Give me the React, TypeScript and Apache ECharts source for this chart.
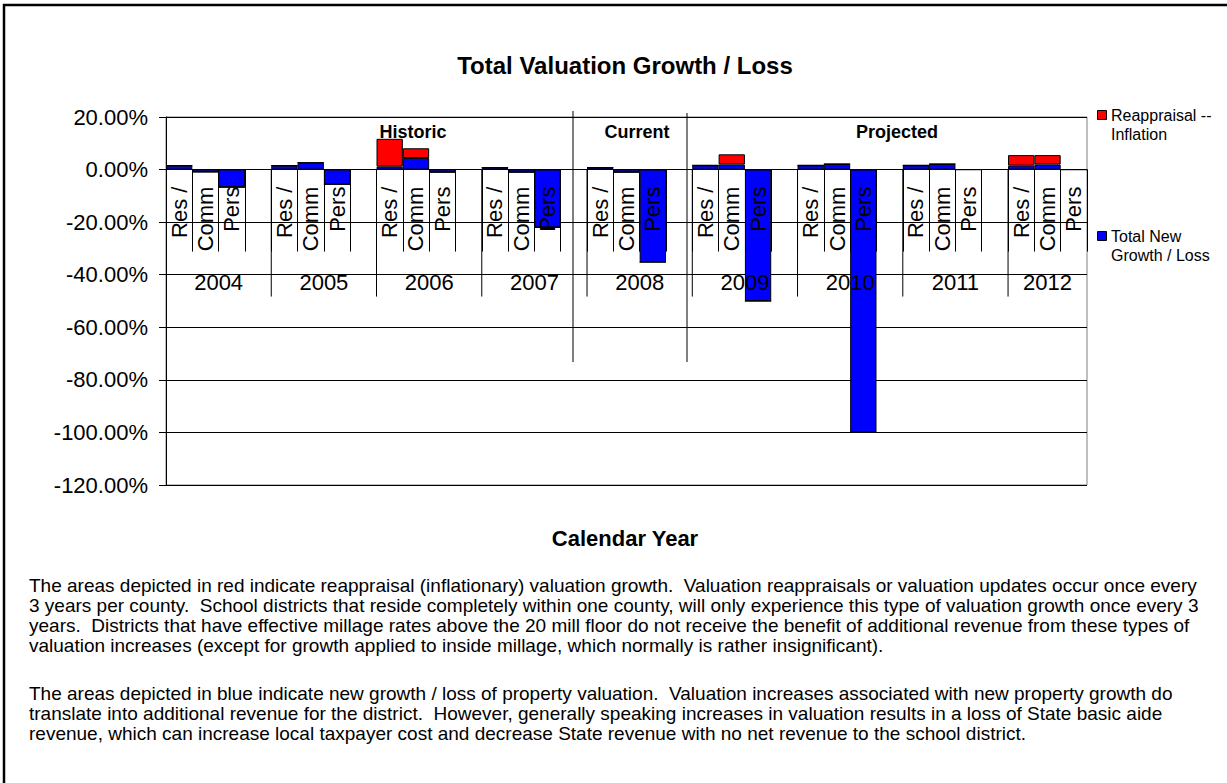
import React, { useEffect, useRef } from 'react';
import * as echarts from 'echarts';

const years = ['2004', '2005', '2006', '2007', '2008', '2009', '2010', '2011', '2012'];
const propertyTypes = ['Res /', 'Comm', 'Pers'];
// values per year, in the order Res / Comm / Pers (percent)
const newGrowthLoss = [
  [1.5, -0.9, -6.7],
  [1.5, 2.6, -5.6],
  [1.1, 4.4, -1.0],
  [0.75, -1.0, -22],
  [0.75, -1.0, -35.2],
  [1.6, 1.9, -50],
  [1.6, 2.1, -100],
  [1.6, 2.1, 0],
  [1.5, 1.9, 0],
];
const reappraisalInflation = [
  [0, 0, 0],
  [0, 0, 0],
  [10.6, 3.7, 0],
  [0, 0, 0],
  [0, 0, 0],
  [0, 3.9, 0],
  [0, 0, 0],
  [0, 0, 0],
  [4.0, 3.6, 0],
];
const yMin = -120;
const yMax = 20;
const yStep = 20;
const eraLabels = ['Historic', 'Current', 'Projected'];
const seriesNames = ['Reappraisal -- Inflation', 'Total New Growth / Loss'];
const legendLines = [
  ['Reappraisal --', 'Inflation'],
  ['Total New', 'Growth / Loss'],
];
const seriesColors = ['#FF0000', '#0000FF'];
const paragraph1 = [
  'The areas depicted in red indicate reappraisal (inflationary) valuation growth.  Valuation reappraisals or valuation updates occur once every',
  '3 years per county.  School districts that reside completely within one county, will only experience this type of valuation growth once every 3',
  'years.  Districts that have effective millage rates above the 20 mill floor do not receive the benefit of additional revenue from these types of',
  'valuation increases (except for growth applied to inside millage, which normally is rather insignificant).',
];
const paragraph2 = [
  'The areas depicted in blue indicate new growth / loss of property valuation.  Valuation increases associated with new property growth do',
  'translate into additional revenue for the district.  However, generally speaking increases in valuation results in a loss of State basic aide',
  'revenue, which can increase local taxpayer cost and decrease State revenue with no net revenue to the school district.',
];

const FONT = '"Liberation Sans", Arial, Helvetica, sans-serif';

// build the category slots (Res / Comm / Pers + a blank spacer between years)
const categories: string[] = [];
const blueData: (number | null)[] = [];
const redData: (number | null)[] = [];
const yearGroups: number[][] = [];
years.forEach((y, i) => {
  const start = categories.length;
  propertyTypes.forEach((t, j) => {
    categories.push(`${y}|${t}`);
    blueData.push(newGrowthLoss[i][j]);
    redData.push(reappraisalInflation[i][j]);
  });
  if (i < years.length - 1) {
    categories.push(`${y}|`);
    blueData.push(null);
    redData.push(null);
  }
  yearGroups.push([start, categories.length - 1]);
});
const slotItems = categories.map((_, i) => [i, 0]);

export default function App() {
  const ref = useRef<HTMLDivElement>(null);
  useEffect(() => {
    document.body.style.margin = '0';
    const chart = echarts.init(ref.current!, null, { renderer: 'svg' });
    const graphics: any[] = [
      { type: 'rect', shape: { x: 4, y: 5, width: 1240, height: 800 }, style: { fill: 'none', stroke: '#000', lineWidth: 2.5 }, silent: true },
      { type: 'line', shape: { x1: 573, y1: 111, x2: 573, y2: 362 }, style: { stroke: '#000', lineWidth: 1 }, z: 20 },
      { type: 'line', shape: { x1: 687, y1: 113, x2: 687, y2: 362 }, style: { stroke: '#000', lineWidth: 1 }, z: 20 },
      { type: 'text', x: 413, y: 132, style: { text: eraLabels[0], font: `bold 18px ${FONT}`, fill: '#000', align: 'center', verticalAlign: 'middle' }, z: 20 },
      { type: 'text', x: 637, y: 132, style: { text: eraLabels[1], font: `bold 18px ${FONT}`, fill: '#000', align: 'center', verticalAlign: 'middle' }, z: 20 },
      { type: 'text', x: 897, y: 132, style: { text: eraLabels[2], font: `bold 18px ${FONT}`, fill: '#000', align: 'center', verticalAlign: 'middle' }, z: 20 },
      { type: 'text', x: 625, y: 538, style: { text: 'Calendar Year', font: `bold 22px ${FONT}`, fill: '#000', align: 'center', verticalAlign: 'middle' } },
    ];
    // legend (Excel style: square aligned with the first text line)
    const legendTops = [110, 231];
    legendLines.forEach((lines, k) => {
      const top = legendTops[k];
      graphics.push({ type: 'rect', shape: { x: 1097.5, y: top + 0.5, width: 9, height: 9 }, style: { fill: seriesColors[k], stroke: '#000', lineWidth: 1 } });
      lines.forEach((ln, m) => {
        graphics.push({ type: 'text', x: 1111, y: top + 5 + m * 19, style: { text: ln, font: `16px ${FONT}`, fill: '#000', align: 'left', verticalAlign: 'middle' } });
      });
    });
    paragraph1.forEach((line, i) => {
      graphics.push({ type: 'text', x: 29, y: 585 + i * 20.3, style: { text: line, font: `19px ${FONT}`, fill: '#000', align: 'left', verticalAlign: 'middle' } });
    });
    paragraph2.forEach((line, i) => {
      graphics.push({ type: 'text', x: 29, y: 693 + i * 20.3, style: { text: line, font: `19px ${FONT}`, fill: '#000', align: 'left', verticalAlign: 'middle' } });
    });

    chart.setOption({
      animation: false,
      textStyle: { fontFamily: FONT, color: '#000' },
      title: {
        text: 'Total Valuation Growth / Loss',
        left: 620,
        textAlign: 'center',
        top: 48,
        textStyle: { fontSize: 24, fontWeight: 'bold', color: '#000', fontFamily: FONT },
      },
      grid: {
        left: 166,
        top: 117,
        width: 921,
        height: 368,
        show: true,
        borderColor: '#808080',
        borderWidth: 1,
        backgroundColor: 'transparent',
        containLabel: false,
      },
      xAxis: {
        type: 'category',
        data: categories,
        z: 5,
        axisLine: { show: true, onZero: true, lineStyle: { color: '#000', width: 1 } },
        axisTick: { show: true, interval: 0, length: 82, lineStyle: { color: '#000', width: 1 } },
        axisLabel: { show: false },
        splitLine: { show: false },
      },
      yAxis: {
        type: 'value',
        min: yMin,
        max: yMax,
        interval: yStep,
        axisLine: { show: true, lineStyle: { color: '#000', width: 1 } },
        axisTick: { show: true, length: 7, lineStyle: { color: '#000' } },
        axisLabel: { fontSize: 22, color: '#000', margin: 18, fontFamily: FONT, formatter: (v: number) => `${v.toFixed(2)}%` },
        splitLine: { show: true, lineStyle: { color: '#000', width: 1 } },
      },
      series: [
        {
          name: seriesNames[1],
          type: 'bar',
          stack: 'total',
          data: blueData,
          barCategoryGap: '0%',
          itemStyle: { color: seriesColors[1], borderColor: '#000', borderWidth: 1 },
        },
        {
          name: seriesNames[0],
          type: 'bar',
          stack: 'total',
          data: redData,
          barCategoryGap: '0%',
          itemStyle: { color: seriesColors[0], borderColor: '#000', borderWidth: 1 },
        },
        {
          name: 'property types',
          type: 'custom',
          data: slotItems,
          encode: { x: 0, y: 1 },
          z: 10,
          silent: true,
          renderItem: (params: any, api: any) => {
            const idx = api.value(0) as number;
            const label = categories[params.dataIndex].split('|')[1];
            const p = api.coord([idx, 0]);
            if (!label) return { type: 'group', children: [] };
            return {
              type: 'text',
              x: p[0],
              y: p[1] + 17,
              rotation: Math.PI / 2,
              style: { text: label, font: `22px ${FONT}`, fill: '#000', align: 'right', verticalAlign: 'middle' },
            };
          },
        },
        {
          name: 'years',
          type: 'custom',
          data: yearGroups,
          encode: { x: 0, y: 1 },
          z: 10,
          silent: true,
          renderItem: (params: any, api: any) => {
            const s = api.value(0) as number;
            const e = api.value(1) as number;
            const w = api.size([1, 0])[0];
            const a = api.coord([s, 0]);
            const b = api.coord([e, 0]);
            const left = a[0] - w / 2;
            const right = b[0] + w / 2;
            const y0 = a[1];
            const children: any[] = [];
            if (params.dataIndex > 0) {
              children.push({ type: 'line', shape: { x1: left, y1: y0, x2: left, y2: y0 + 127 }, style: { stroke: '#000', lineWidth: 1 } });
            }
            children.push({
              type: 'text',
              x: (left + right) / 2,
              y: y0 + 113,
              style: { text: years[params.dataIndex], font: `22px ${FONT}`, fill: '#000', align: 'center', verticalAlign: 'middle' },
            });
            return { type: 'group', children };
          },
        },
      ],
      graphic: graphics,
    });
    return () => chart.dispose();
  }, []);
  return <div ref={ref} style={{ width: 1227, height: 783 }} />;
}
